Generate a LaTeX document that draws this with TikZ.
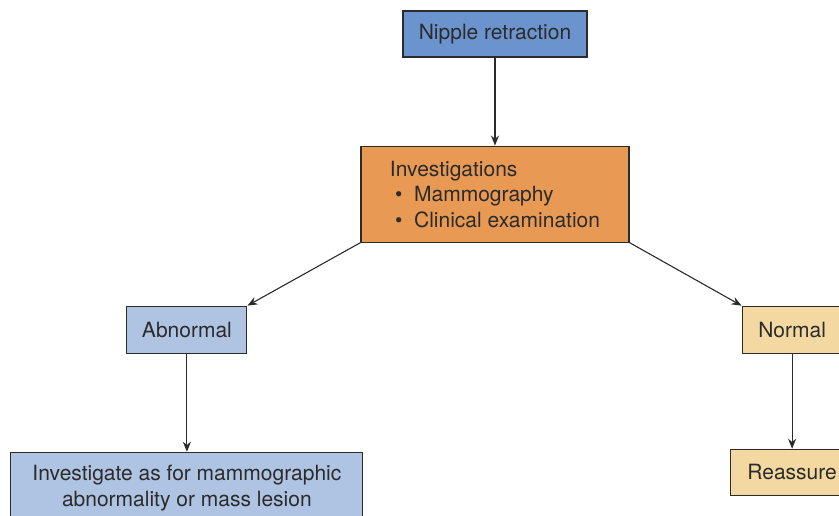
\documentclass[tikz,border=0pt]{standalone}
\usepackage{fontspec}
\setmainfont{TeX Gyre Heros}
\usepackage{tikz}
\usetikzlibrary{arrows.meta, positioning}
\definecolor{topblue}{HTML}{6B93CD}
\definecolor{invorange}{HTML}{E89A55}
\definecolor{paleblue}{HTML}{AFC3E3}
\definecolor{paleyellow}{HTML}{F3D9A1}
\definecolor{inkgray}{HTML}{2B2B2B}
\tikzset{
    boxbase/.style={rectangle, draw=inkgray, line width=1.1pt, text=inkgray, inner sep=0pt, align=center, font=\fontsize{21}{25.5}\selectfont},
    start/.style={boxbase, fill=topblue, minimum width=184pt, minimum height=46pt},
    investig/.style={boxbase, fill=invorange, minimum width=268pt, minimum height=96pt, align=left},
    abnorm/.style={boxbase, fill=paleblue, minimum height=47pt},
    norm/.style={boxbase, fill=paleyellow, minimum height=47pt},
    arrow/.style={-{Stealth[length=10pt, width=8pt]}, draw=inkgray, line width=1.1pt}
}
\begin{document}
\begin{tikzpicture}[x=1pt, y=1pt]
        % --- Page frame ---
        \clip (0,0) rectangle (839,-516);
        \useasboundingbox (0,0) rectangle (839,-516);

        % --- Start and investigations ---
        \node (Retraction) [start] at (495,-34) {Nipple retraction};
        \node (Investig) [investig, below=88pt of Retraction] {Investigations \\ \hspace{0.25em}\textbullet\hspace{0.55em}Mammography \\ \hspace{0.25em}\textbullet\hspace{0.55em}Clinical examination};

        % --- Results ---
        \node (Abnormal) [abnorm, minimum width=120pt, below left=63pt and 113pt of Investig.south west] {Abnormal};
        \node (Normal) [norm, minimum width=100pt, below right=63pt and 112pt of Investig.south east] {Normal};

        % --- Follow-up ---
        \node (Mass) [abnorm, minimum width=352pt, minimum height=72pt, below=98pt of Abnormal] {Investigate as for mammographic \\ abnormality or mass lesion};
        \node (Reassure) [norm, minimum width=123pt, minimum height=46pt, below=95pt of Normal.south, anchor=north] {Reassure};

        % --- Arrows ---
        \draw [arrow] (Retraction) -- (Investig);
        \draw [arrow] (Investig.south west) -- (Abnormal.north east);
        \draw [arrow] (Investig.south east) -- (Normal.north west);
        \draw [arrow] (Abnormal) -- (Mass);
        \draw [arrow] (Normal) -- (Reassure);
    \end{tikzpicture}
\end{document}
